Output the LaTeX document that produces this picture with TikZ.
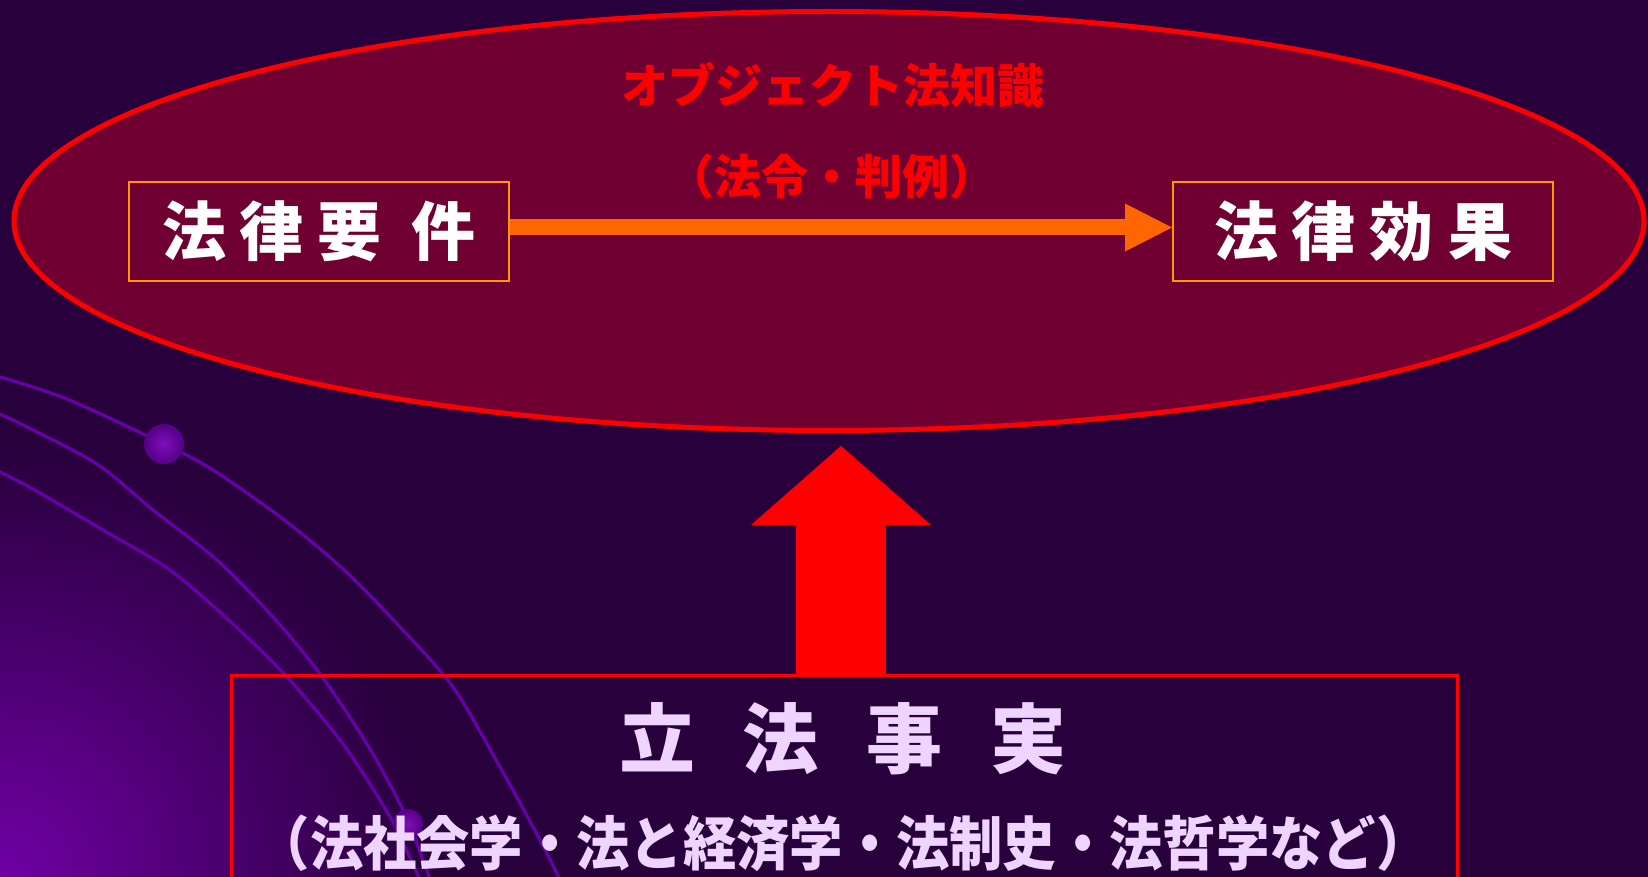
\documentclass[tikz,border=0pt]{standalone}
\usepackage{fontspec}
\usepackage{graphicx}
\newfontfamily\cjk{Noto Sans CJK JP}
\usetikzlibrary{shapes.geometric,arrows.meta}
\definecolor{bgcol}{RGB}{40,0,60}
\definecolor{glowcol}{RGB}{112,0,165}
\definecolor{ellfill}{RGB}{112,0,50}
\definecolor{boxorange}{RGB}{255,153,0}
\definecolor{arroworange}{RGB}{255,102,0}
\definecolor{lav}{RGB}{238,212,255}
\definecolor{curvecol}{RGB}{102,0,168}
\definecolor{ballin}{RGB}{125,15,185}
\definecolor{ballout}{RGB}{85,0,135}
\tikzset{
  lawbox/.style={draw=boxorange, line width=2pt, minimum width=380pt, minimum height=99pt,
    inner sep=0pt, text=white, font=\cjk\bfseries\fontsize{64pt}{70pt}\selectfont},
  redtitle/.style={text=red, inner sep=0pt, font=\cjk\bfseries\fontsize{47pt}{52pt}\selectfont},
  deco/.style={draw=curvecol, line width=3.2pt, line cap=round},
  orb/.style={inner color=ballin, outer color=ballout},
}
\newcommand\gapx[1]{\hspace{#1pt}}
\begin{document}
\begin{tikzpicture}[x=1pt,y=-1pt]
\useasboundingbox (0,0) rectangle (1648,877);
\fill[bgcol] (0,0) rectangle (1648,877);
\begin{scope}
  \clip (0,0) rectangle (1648,877);
  \shade[inner color=glowcol, outer color=bgcol] (0,877) circle (430pt);
  % decorative curves
  \draw[deco] plot[smooth, tension=0.5] coordinates {(0,377) (67,399) (164,444) (213,470) (283,519) (343,569) (400,627) (453,687) (500,767) (540,840) (560,880)};
  \draw[deco] plot[smooth, tension=0.5] coordinates {(0,414) (27,427) (97,464) (153,510) (217,560) (273,617) (320,674) (367,744) (403,810) (423,860) (430,880)};
  \draw[deco] plot[smooth, tension=0.5] coordinates {(0,472) (33,489) (103,530) (170,570) (233,624) (287,677) (343,744) (390,817) (420,880)};
  \shade[orb] (164,444) circle (20pt);
  \shade[orb] (408,824) circle (15pt);
\end{scope}

% object knowledge ellipse
\node[ellipse, draw=red, line width=5pt, fill=ellfill, minimum width=1630pt, minimum height=419pt, inner sep=0pt] (obj) at (829,221) {};
\node[redtitle] (tt) at (833,85) {オブジェクト法知識};
\node[redtitle] (ts) at (832,177) {（法令・判例）};

\node[lawbox] (req) at (319,231.5) {法\gapx{14}律\gapx{14}要\gapx{30}件};
\node[lawbox] (eff) at (1363,231.5) {法\gapx{14}律\gapx{14}効\gapx{14}果};
\draw[arroworange, line width=16pt, -{Triangle[length=47pt,width=48pt,line width=0pt]}] ([yshift=4pt]req.east) -- ([yshift=4pt]eff.west);

% legislative facts box
\node[draw=red, line width=3pt, minimum width=1226pt, minimum height=260pt, inner sep=0pt, anchor=north] (fact) at (844,674) {};
\coordinate (tipR) at (841,446);
\draw[red, line width=90pt, -{Triangle[length=79pt,width=180pt,line width=0pt]}] (fact.north -| tipR) -- (tipR);

\node[text=lav, inner sep=0pt, font=\cjk\bfseries\fontsize{76pt}{80pt}\selectfont] (lf) at (843,739) {立\gapx{48}法\gapx{48}事\gapx{48}実};
\node[text=lav, inner sep=0pt, font=\cjk\bfseries\fontsize{53.3pt}{58pt}\selectfont] (lfsub) at (843,843) {\scalebox{1}[1.1]{（法社会学・法と経済学・法制史・法哲学など）}};
\end{tikzpicture}
\end{document}
